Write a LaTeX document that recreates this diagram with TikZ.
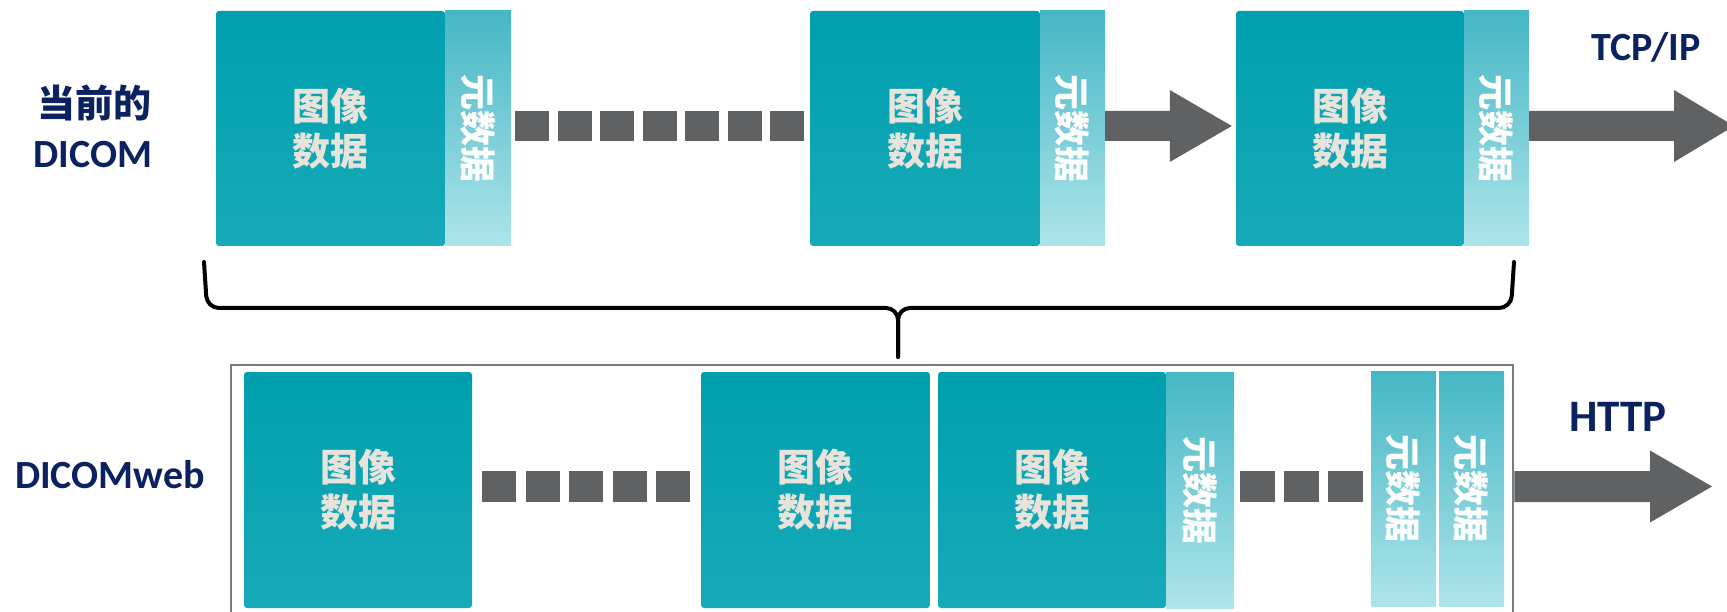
\documentclass[tikz,border=0pt]{standalone}
\usepackage{fontspec}
\setmainfont{Carlito}
\newfontfamily\cjk{Noto Sans CJK SC}
\usetikzlibrary{calc}
\definecolor{tealtop}{HTML}{009FAE}
\definecolor{tealbot}{HTML}{17AAB8}
\definecolor{metatop}{HTML}{45B7C5}
\definecolor{metabot}{HTML}{AEE4EA}
\definecolor{arrowgray}{HTML}{606163}
\definecolor{navy}{HTML}{0B2160}
\definecolor{beige}{HTML}{E8E4DC}
\definecolor{framegray}{HTML}{7A7A7A}
\newcommand\blockarrow[5]{%
  \fill[arrowgray] let \p1=(#1), \p2=(#2) in
  (\x1,\y1+#3) -- (\x2-#5,\y1+#3) -- (\x2-#5,\y1+#4) -- (\x2,\y1)
  -- (\x2-#5,\y1-#4) -- (\x2-#5,\y1-#3) -- (\x1,\y1-#3) -- cycle;}
\tikzset{
  imgbox/.style={rectangle, rounded corners=3pt, top color=tealtop, bottom color=tealbot,
    inner sep=0pt, text=beige, align=center,
    font=\cjk\bfseries\fontsize{38}{45}\selectfont},
  metabox/.style={rectangle, top color=metatop, bottom color=metabot, inner sep=0pt},
  metatext/.style={rotate=-90, text=white!92!beige, inner sep=0pt,
    font=\cjk\bfseries\fontsize{36}{40}\selectfont},
  dashbox/.style={rectangle, fill=arrowgray, inner sep=0pt, minimum height=30pt},
  navylbl/.style={text=navy, inner sep=0pt, font=\bfseries\fontsize{40}{44}\selectfont},
  navycjk/.style={text=navy, inner sep=0pt, font=\cjk\bfseries\fontsize{38}{44}\selectfont},
  bracestyle/.style={draw=black, line width=4pt, rounded corners=12pt, line cap=round}
}
\begin{document}
\begin{tikzpicture}[x=1pt,y=-1pt]
\useasboundingbox (0,0) rectangle (1727,612);
\clip (0,0) rectangle (1727,612);
\coordinate (r1) at (0,126);
\coordinate (r2) at (0,486.5);

% ---------- row 1 ----------
\node[navycjk] (cur) at (94,103) {当前的};
\node[navylbl] (dicom) at (93,155) {DICOM};
\node[navylbl] (tcp) at (1646,47) {TCP/IP};

\node[imgbox, minimum width=229pt, minimum height=235pt] (i1) at (330.5,128.5) {图像\\数据};
\node[metabox, minimum width=66pt, minimum height=235pt] (m1) at (478,128.5) {};
\node[metatext] (t1) at (m1.center) {元数据};

\foreach \i in {0,...,6}
  \node[dashbox, minimum width=34pt] (da\i) at (532+42.5*\i,126) {};

\node[imgbox, minimum width=230pt, minimum height=235pt] (i2) at (925,128.5) {图像\\数据};
\node[metabox, minimum width=65pt, minimum height=235pt] (m2) at (1072.5,128.5) {};
\node[metatext] (t2) at (m2.center) {元数据};

\node[imgbox, minimum width=228pt, minimum height=235pt] (i3) at (1350,128.5) {图像\\数据};
\node[metabox, minimum width=65pt, minimum height=235pt] (m3) at (1496.5,128.5) {};
\node[metatext] (t3) at (m3.center) {元数据};

\coordinate (tip1) at ($(i3.west |- r1)+(-4,0)$);
\blockarrow{m2.east |- r1}{tip1}{15pt}{36pt}{62pt}
\coordinate (tcpend) at (1734,126);
\blockarrow{m3.east |- r1}{tcpend}{15pt}{36pt}{60pt}

% ---------- brace ----------
\draw[bracestyle] (204,262) -- (207,308) -- (898,308) -- (898,357);
\draw[bracestyle] (1514,262) -- (1511,308) -- (898,308) -- (898,357);

% ---------- row 2 ----------
\node[navylbl] (dweb) at (110,475) {DICOMweb};
\node[navylbl, font=\bfseries\fontsize{45}{48}\selectfont] (http) at (1618,417) {HTTP};

\node[draw=framegray, line width=2.5pt, minimum width=1282pt, minimum height=275pt, inner sep=0pt] (frame) at (872,502.5) {};

\node[imgbox, minimum width=228pt, minimum height=236pt] (iA) at (358,490) {图像\\数据};
\foreach \i in {0,...,4}
  \node[dashbox, minimum width=34pt, minimum height=31pt] (db\i) at (499+43.6*\i,486.5) {};
\node[imgbox, minimum width=229pt, minimum height=236pt] (iB) at (815.5,490) {图像\\数据};
\node[imgbox, minimum width=228pt, minimum height=236pt] (iC) at (1052,490) {图像\\数据};
\node[metabox, minimum width=68pt, minimum height=236pt] (mC) at (1200,490) {};
\node[metatext] (tC) at (mC.center) {元数据};
\foreach \i in {0,...,2}
  \node[dashbox, minimum width=35pt, minimum height=31pt] (dc\i) at (1257.5+44*\i,486.5) {};
\node[metabox, minimum width=65pt, minimum height=235pt] (mD) at (1403.5,488.5) {};
\node[metatext] (tD) at (mD.center) {元数据};
\node[metabox, minimum width=65pt, minimum height=235pt] (mE) at (1471.5,488.5) {};
\node[metatext] (tE) at (mE.center) {元数据};

\coordinate (httpend) at (1712,486.5);
\blockarrow{frame.east |- r2}{httpend}{15.5pt}{36pt}{62pt}
\end{tikzpicture}
\end{document}
